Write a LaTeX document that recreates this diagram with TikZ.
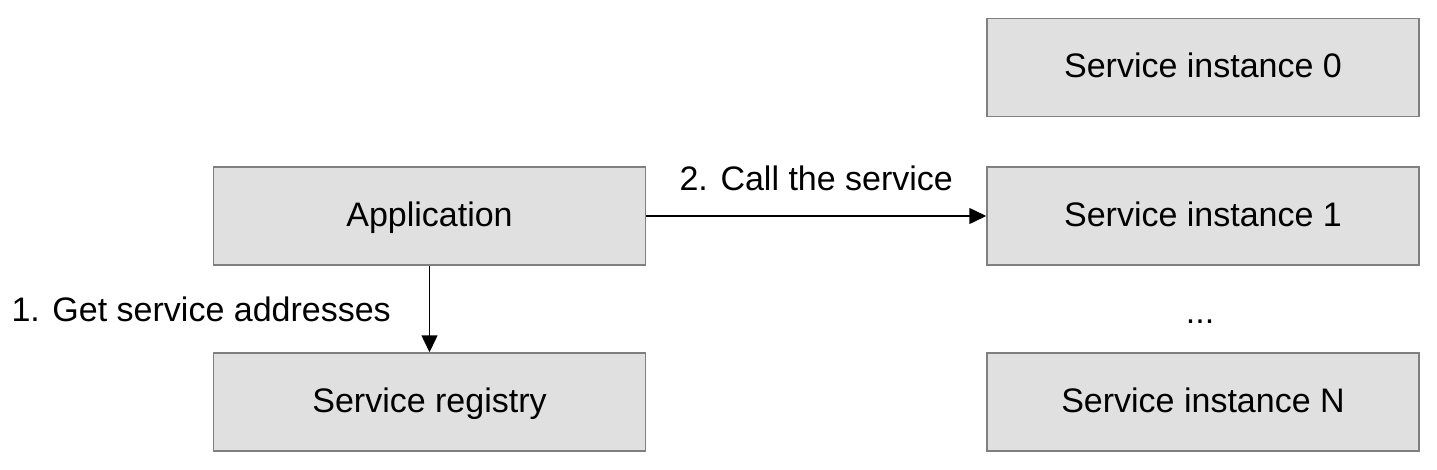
\documentclass[tikz,border=0pt]{standalone}
\usepackage{fontspec}
\setmainfont{Liberation Sans}
\usetikzlibrary{arrows.meta}
\begin{document}
\begin{tikzpicture}[x=1pt,y=-1pt,
  box/.style={draw=black!50, line width=1.5pt, fill=black!12, minimum width=432pt, minimum height=98pt, inner sep=0pt, text height=24pt, text depth=4pt, font=\fontsize{34}{40}\selectfont},
  lbl/.style={font=\fontsize{34}{40}\selectfont, inner sep=0pt},
  conn/.style={line width=1.5pt, -{Triangle[length=17pt,width=16pt]}}]
\useasboundingbox (0,0) rectangle (1437,469);
\node[box] (app) at (429.5,216) {Application};
\node[box] (reg) at (429.5,402) {Service registry};
\node[box] (s0) at (1203,67.5) {Service instance 0};
\node[box] (s1) at (1203,216) {Service instance 1};
\node[box] (sn) at (1203,402) {Service instance N};
\node[lbl] (dots) at (1200,322) {...};
\draw[conn] (app.east) -- (s1.west) node[lbl, midway, above=24pt] (l2) {2. Call the service};
\draw[conn] (app.south) -- (reg.north) node[lbl, midway, left=38pt] (l1) {1. Get service addresses};
\end{tikzpicture}
\end{document}
